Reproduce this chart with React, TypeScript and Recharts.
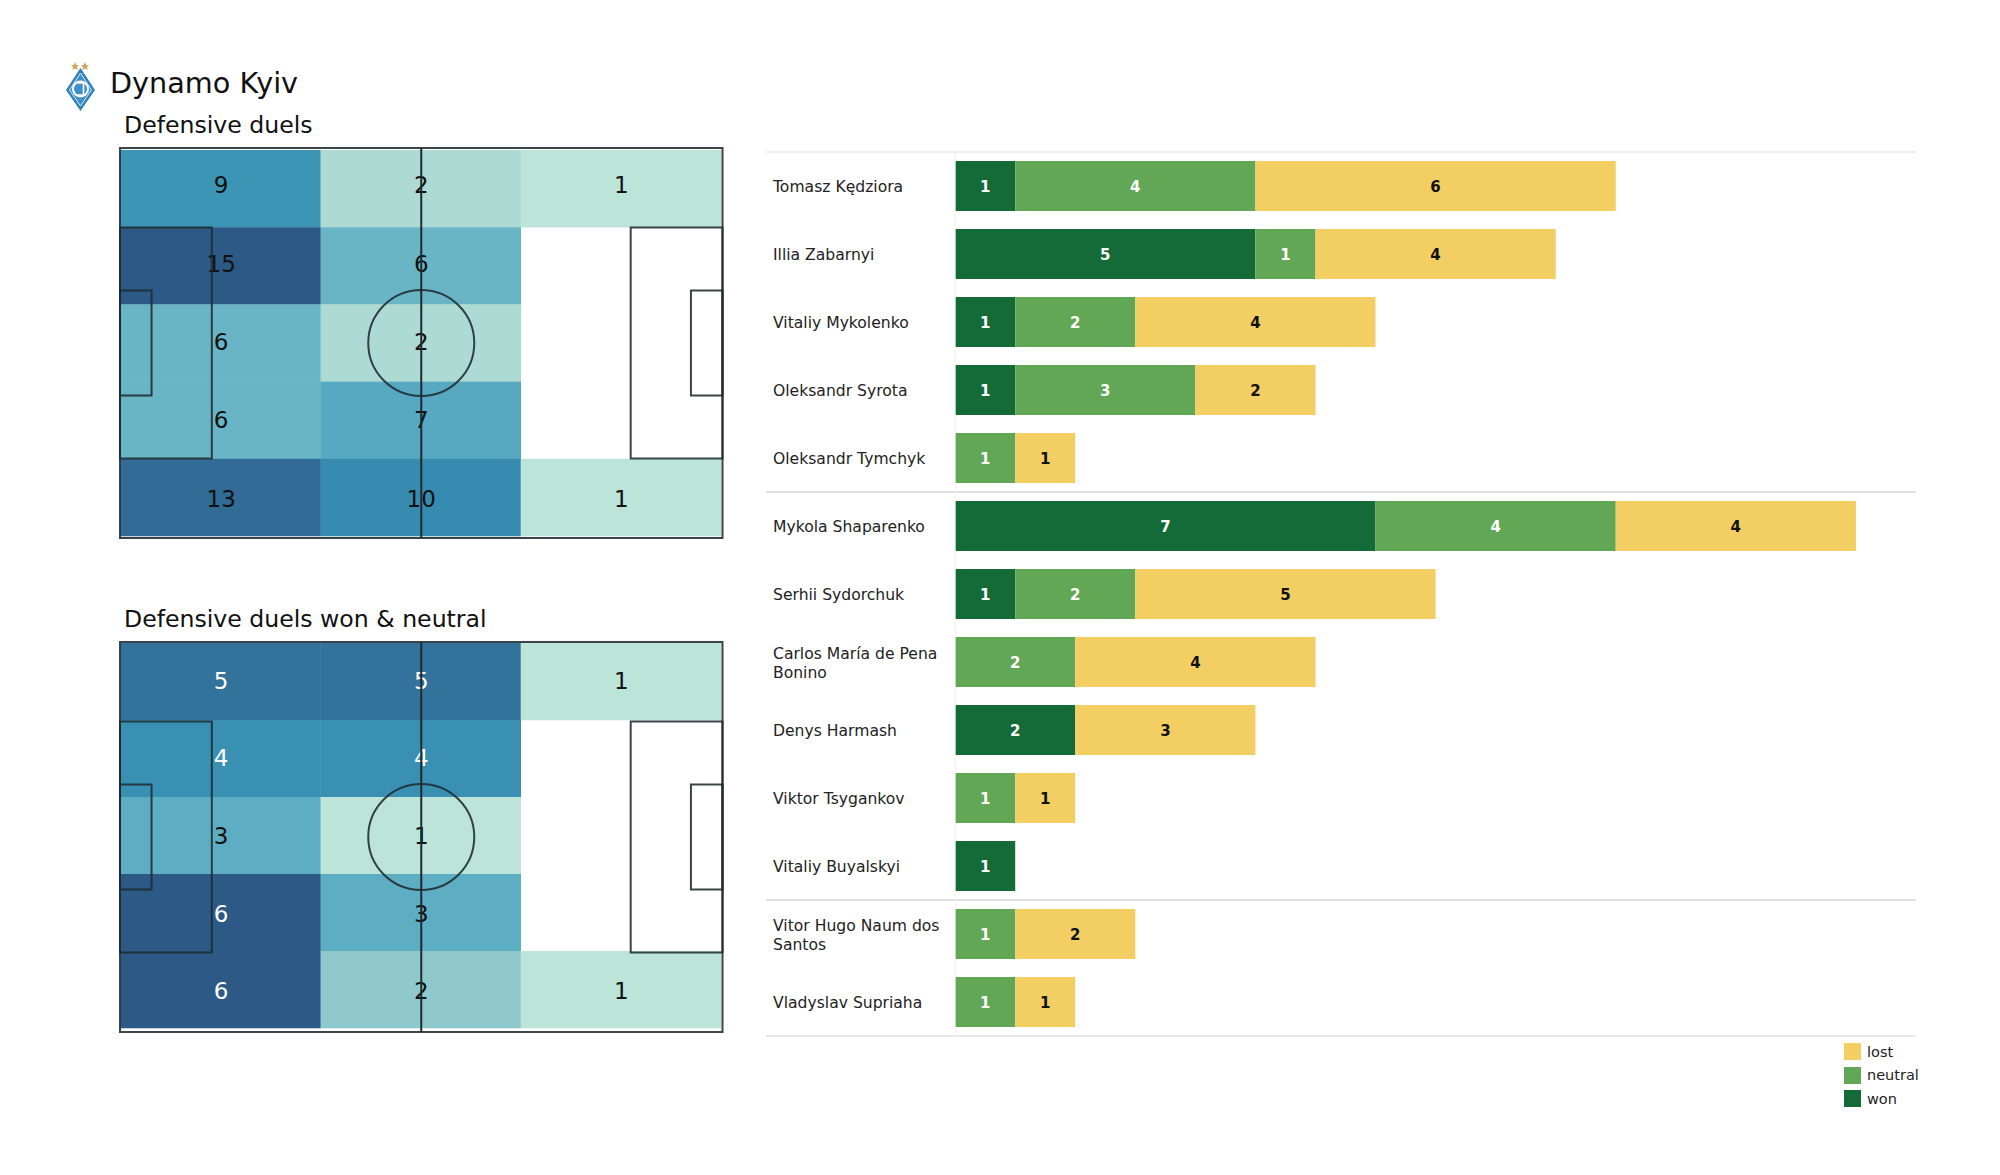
import React from "react";
import {
  BarChart, Bar, XAxis, YAxis, LabelList, Legend, ReferenceLine, ReferenceArea, ReferenceDot,
  ScatterChart, Scatter,
} from "recharts";

const FONT = "'DejaVu Sans', sans-serif";

const players = [
  "Tomasz Kędziora", "Illia Zabarnyi", "Vitaliy Mykolenko", "Oleksandr Syrota", "Oleksandr Tymchyk",
  "Mykola Shaparenko", "Serhii Sydorchuk", "Carlos María de Pena Bonino", "Denys Harmash",
  "Viktor Tsygankov", "Vitaliy Buyalskyi", "Vitor Hugo Naum dos Santos", "Vladyslav Supriaha",
];
const won =     [1, 5, 1, 1, 0, 7, 1, 0, 2, 0, 1, 0, 0];
const neutral = [4, 1, 2, 3, 1, 4, 2, 2, 0, 1, 0, 1, 1];
const lost =    [6, 4, 4, 2, 1, 4, 5, 4, 3, 1, 0, 2, 1];
const groupStarts = [0, 5, 11];

const defensiveDuels = [[9, 2, 1], [15, 6, 0], [6, 2, 0], [6, 7, 0], [13, 10, 1]];
const wonAndNeutral = [[5, 5, 1], [4, 4, 0], [3, 1, 0], [6, 3, 0], [6, 2, 1]];

const barRows = players.map((name, i) => ({ name, won: won[i], neutral: neutral[i], lost: lost[i] }));

// Colour ramp: position in the value range -> colour
const ramp: [number, number[]][] = [
  [0, [188, 228, 217]], [0.07, [174, 218, 212]], [0.2, [143, 201, 204]], [0.357, [105, 181, 198]],
  [0.43, [87, 169, 193]], [0.57, [61, 149, 181]], [0.64, [55, 138, 176]], [0.8, [51, 114, 155]],
  [0.857, [49, 107, 150]], [1, [44, 89, 133]],
];
function rampColor(t: number) {
  for (let i = 1; i < ramp.length; i++) {
    if (t <= ramp[i][0]) {
      const [t0, c0] = ramp[i - 1];
      const [t1, c1] = ramp[i];
      const f = (t - t0) / (t1 - t0);
      const c = c0.map((v, k) => Math.round(v + (c1[k] - v) * f));
      return `rgb(${c[0]},${c[1]},${c[2]})`;
    }
  }
  return "rgb(44,89,133)";
}

const PITCH_W = 602.5;
const PITCH_H = 390;
const PAD = 4;
const LINE = "#1f2a30";

function PitchHeatmap({ grid, left, top, whiteFrom, ySpan, textStretch, textShift }: { grid: number[][]; left: number; top: number; whiteFrom: number; ySpan: number[]; textStretch: number; textShift: number }) {
  const rows = grid.length;
  const cols = grid[0].length;
  const flat = grid.flat().filter((v) => v > 0);
  const lo = Math.min(...flat);
  const hi = Math.max(...flat);
  const xSpan = [0.09, 104.7];
  const rowH = (ySpan[1] - ySpan[0]) / rows;
  const colW = (xSpan[1] - xSpan[0]) / cols;
  const cells = grid.flatMap((row, r) =>
    row
      .map((value, c) => ({ x: xSpan[0] + colW * (c + 0.5), y: ySpan[0] + rowH * (r + 0.5), row: r, value }))
      .filter((d) => d.value > 0)
  );
  const cw = (colW * PITCH_W) / 105;
  const ch = (rowH * PITCH_H) / 68;
  const shape = (p: any) => {
    const t = (p.payload.value - lo) / (hi - lo);
    const tweak = (p.payload.row - (rows - 1) / 2) * ch * textStretch + textShift;
    return (
      <g>
        <rect x={p.cx - cw / 2} y={p.cy - ch / 2} width={cw + 0.3} height={ch + 0.3} fill={rampColor(t)} />
        <text x={p.cx + 0.6} y={p.cy + tweak} textAnchor="middle" dominantBaseline="central" fontSize={23} fontFamily={FONT}
          fill={t >= whiteFrom ? "#ffffff" : "#111111"}>{p.payload.value}</text>
      </g>
    );
  };
  const lineProps = { stroke: LINE, strokeWidth: 2, strokeOpacity: 0.88, fill: "none", fillOpacity: 0, ifOverflow: "visible" as const, zIndex: 700 };
  return (
    <div style={{ position: "absolute", left: left - PAD, top: top - PAD }}>
      <ScatterChart width={PITCH_W + PAD * 2} height={PITCH_H + PAD * 2} margin={{ top: PAD, right: PAD, bottom: PAD, left: PAD }}>
        <XAxis type="number" dataKey="x" domain={[0, 105]} hide />
        <YAxis type="number" dataKey="y" domain={[0, 68]} reversed hide />
        <Scatter data={cells} shape={shape} isAnimationActive={false} />
        <ReferenceArea x1={0} x2={105} y1={0} y2={68} {...lineProps} />
        <ReferenceArea x1={0} x2={16} y1={13.85} y2={54.15} {...lineProps} />
        <ReferenceArea x1={0} x2={5.5} y1={24.85} y2={43.15} {...lineProps} />
        <ReferenceArea x1={89} x2={105} y1={13.85} y2={54.15} {...lineProps} />
        <ReferenceArea x1={99.5} x2={105} y1={24.85} y2={43.15} {...lineProps} />
        <ReferenceLine x={52.5} stroke={LINE} strokeWidth={2} ifOverflow="visible" zIndex={700} />
        <ReferenceDot x={52.5} y={34} r={53} fill="none" fillOpacity={0} stroke={LINE} strokeWidth={2} strokeOpacity={0.88} ifOverflow="visible" zIndex={700} />
      </ScatterChart>
    </div>
  );
}

const splitName = (name: string) => {
  if (name.length <= 20) return [name];
  const words = name.split(" ");
  const last = words.pop() as string;
  return [words.join(" "), last];
};

const NameTick = (p: any) => {
  const lines = splitName(p.payload.value);
  const first = p.y + 1 - ((lines.length - 1) * 19) / 2;
  return (
    <text x={7} y={first} fontSize={15.6} fontFamily={FONT} fill="#222222" dominantBaseline="central">
      {lines.map((l, i) => (
        <tspan key={i} x={7} y={first + i * 19} dominantBaseline="central">{l}</tspan>
      ))}
    </text>
  );
};

const LegendBox = ({ payload }: any) => (
  <div style={{ fontFamily: FONT, fontSize: 14.5, color: "#222222" }}>
    {(payload || []).map((e: any) => (
      <div key={e.value} style={{ display: "flex", alignItems: "center", height: 23.5 }}>
        <span style={{ width: 17, height: 17, background: e.color, display: "inline-block", marginRight: 6 }} />
        <span>{e.value}</span>
      </div>
    ))}
  </div>
);

const hideZero = (v: any) => (v ? v : "");
const valueLabel = (fill: string) => ({ fill, fontSize: 15, fontWeight: 700, fontFamily: FONT });

function DuelBars() {
  return (
    <div style={{ position: "absolute", left: 766, top: 150 }}>
      <BarChart layout="vertical" width={1164} height={970} data={barRows}
        margin={{ top: 2, right: 14, bottom: 84, left: 0 }} barCategoryGap={9}>
        <XAxis type="number" domain={[-3.15, 16]} hide />
        <YAxis type="category" dataKey="name" mirror width={1} interval={0} axisLine={false} tickLine={false} tick={NameTick} />
        {groupStarts.map((g) => (
          <ReferenceLine key={g} y={players[g]} position="start" stroke={g === 0 ? "#e8e8e8" : "#d6d6d6"} strokeWidth={1.5} ifOverflow="visible" />
        ))}
        <ReferenceLine y={players[players.length - 1]} position="end" stroke="#e0e0e0" strokeWidth={1.5} ifOverflow="visible" />
        <ReferenceLine x={0} stroke="#efefef" strokeWidth={1} ifOverflow="visible" />
        <Bar dataKey="won" name="won" stackId="a" fill="#156b37" isAnimationActive={false}>
          <LabelList dataKey="won" position="center" dy={1} formatter={hideZero} style={valueLabel("#ffffff")} />
        </Bar>
        <Bar dataKey="neutral" name="neutral" stackId="a" fill="#62a755" isAnimationActive={false}>
          <LabelList dataKey="neutral" position="center" dy={1} formatter={hideZero} style={valueLabel("#ffffff")} />
        </Bar>
        <Bar dataKey="lost" name="lost" stackId="a" fill="#f2ce63" isAnimationActive={false}>
          <LabelList dataKey="lost" position="center" dy={1} formatter={hideZero} style={valueLabel("#111111")} />
        </Bar>
        <Legend layout="vertical" align="center" verticalAlign="middle" content={LegendBox}
          wrapperStyle={{ position: "absolute", left: 1844 - 766, top: 1040 - 150, width: 90, height: 72 }} />
      </BarChart>
    </div>
  );
}

const Crest = () => (
  <svg style={{ position: "absolute", left: 60, top: 58 }} width={42} height={56} viewBox="0 0 42 56">
    <polygon points="15,4 16.2,7 19,7.2 17,9 17.6,12 15,10.4 12.4,12 13,9 11,7.2 13.8,7" fill="#c9a85c" />
    <polygon points="25,4 26.2,7 29,7.2 27,9 27.6,12 25,10.4 22.4,12 23,9 21,7.2 23.8,7" fill="#c9a85c" />
    <polygon points="20.5,10 35,32 20.5,53 6,32" fill="#2f80bd" />
    <polygon points="20.5,15 31.5,32 20.5,48 9.5,32" fill="#3f8fca" stroke="#dcebf6" strokeWidth={1} />
    <circle cx={20.5} cy={31} r={7.5} fill="none" stroke="#ffffff" strokeWidth={2} />
    <path d="M17.5 25 h6 v11 M15.5 37 h10" fill="none" stroke="#ffffff" strokeWidth={1.6} />
  </svg>
);

const Heading = ({ x, y, size, children }: any) => (
  <div style={{ position: "absolute", left: x, top: y, fontFamily: FONT, fontSize: size, color: "#111111", lineHeight: 1, whiteSpace: "nowrap" }}>
    {children}
  </div>
);

export default function App() {
  return (
    <div style={{ position: "absolute", left: 0, top: 0, width: 2000, height: 1175, background: "#ffffff", overflow: "hidden" }}>
      <Crest />
      <Heading x={110} y={69} size={28.7}>Dynamo Kyiv</Heading>
      <Heading x={124} y={114} size={23.6}>Defensive duels</Heading>
      <Heading x={124} y={608} size={23.6}>Defensive duels won &amp; neutral</Heading>
      <PitchHeatmap grid={defensiveDuels} left={120} top={148} whiteFrom={2} ySpan={[0.35, 67.65]} textStretch={0.016} textShift={-1} />
      <PitchHeatmap grid={wonAndNeutral} left={120} top={642} whiteFrom={0.6} ySpan={[0.17, 67.3]} textStretch={0.008} textShift={0.5} />
      <DuelBars />
    </div>
  );
}
